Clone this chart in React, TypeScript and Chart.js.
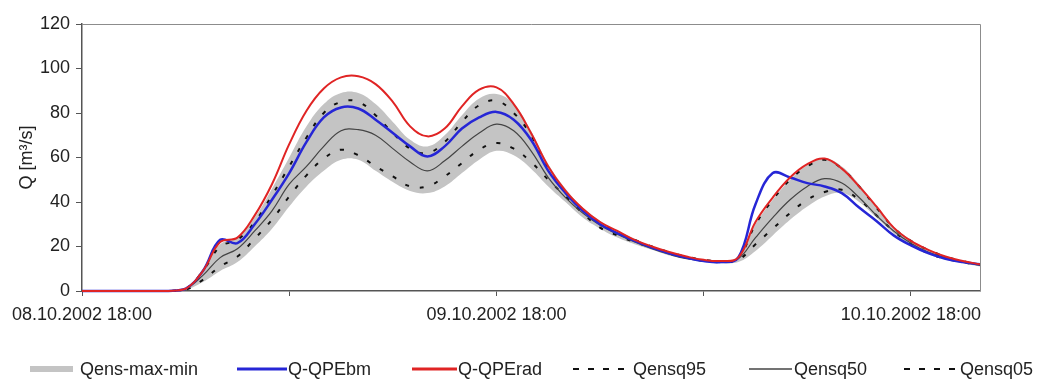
import React, { useEffect, useRef } from "react";
import { Chart, registerables } from "chart.js";

Chart.register(...registerables);

// Hours after 08.10.2002 18:00
const HOURS = [
  0, 1, 2, 3, 4, 5, 6, 7, 8, 9, 10, 11, 12, 13, 14, 15, 16, 17, 18, 19, 20, 21, 22, 23, 24, 25, 26,
  27, 28, 29, 30, 31, 32, 33, 34, 35, 36, 37, 38, 39, 40, 41, 42, 43, 44, 45, 46, 47, 48, 49, 50, 51, 52,
];

// Discharge Q [m³/s]
const Q_QPE_RAD = [
  0, 0, 0, 0, 0, 0, 1, 9, 22, 24, 34, 48, 66, 81, 91, 96, 96.5, 93, 85, 74, 69.5, 73, 83, 90.5, 91.5, 84, 71,
  56, 45, 37, 31, 27, 23, 20, 17.5, 15.5, 14, 13.5, 15, 31, 42, 51, 57, 59.5, 55, 47, 38, 28.5, 22.5, 18.5, 15.5, 13.5, 12,
];
const Q_QPE_BM = [
  0, 0, 0, 0, 0, 0, 1, 9, 23, 21.5, 30, 41, 53, 67, 78, 82.5, 82, 77, 71, 65, 60.5, 65, 73, 78, 80.5, 77, 68,
  54, 44, 36, 30, 26, 22.5, 19.5, 17, 15, 13.5, 13, 15, 39, 53, 51, 48.5, 47, 44, 37.5, 31.5, 25, 20.5, 17, 14.5, 13, 12,
];
const Q_ENS_Q95 = [
  0, 0, 0, 0, 0, 0, 1, 9, 20, 23, 31, 43, 56, 69, 80, 85, 85, 79, 71, 64, 62, 67, 76, 83.5, 85.5, 80, 70,
  55, 44.5, 36.5, 30.5, 26.5, 23, 20, 17.5, 15.5, 14, 13.5, 15, 30, 41, 50, 56, 59, 55, 47, 37.5, 28.5, 22.5, 18.5, 15.5, 13.5, 12,
];
const Q_ENS_Q50 = [
  0, 0, 0, 0, 0, 0, 1, 7, 15, 19, 27, 36, 48, 56, 65, 72, 72.5, 70, 64, 58, 54, 58.5, 65, 71, 75, 72, 63,
  51, 42, 35, 29.5, 25.5, 22, 19, 16.5, 14.5, 13.5, 13, 14.5, 24, 33, 41, 47, 50.5, 48.5, 42, 34, 27, 21.5, 17.5, 15, 13, 11.5,
];
const Q_ENS_Q05 = [
  0, 0, 0, 0, 0, 0, 0.5, 5, 11, 15.5, 23.5, 32, 42.5, 52, 59.5, 63.5, 61, 56, 51.5, 47, 47, 51.5, 57.5, 63.5, 66.5, 64, 58,
  50, 42.5, 35, 28.5, 25, 22, 19.5, 17, 15, 13.5, 13, 14, 21, 28, 35, 41, 44.5, 45.5, 41, 34, 27, 21, 17, 14.5, 13, 11.5,
];
const Q_ENS_MAX = [
  0, 0, 0, 0, 0, 0, 1, 10, 21, 24, 33, 46, 60, 74, 84, 89, 89, 84, 76, 68, 65, 70, 79, 86.5, 88.5, 84, 72,
  57, 46, 37.5, 31.5, 27, 23.5, 20, 17.5, 15.5, 14, 13.5, 15, 30, 41, 50, 56.5, 59.5, 56, 48, 38, 29, 23, 18.5, 15.5, 13.5, 12,
];
const Q_ENS_MIN = [
  0, 0, 0, 0, 0, 0, 0.5, 4, 9, 13, 20, 28, 38, 47, 54, 59, 59, 54, 49, 45, 44, 47, 53, 59, 63, 61, 55,
  47, 40, 33, 28, 24, 21, 18.5, 16, 14.5, 13, 12.5, 13, 18, 25, 32, 38, 42.5, 44, 40, 33, 26, 20.5, 16.5, 14, 12.5, 11,
];

const X_TICK_HOURS = [0, 12, 24, 36, 48];
const X_LABEL_HOURS = [0, 24, 48];
const X_LABELS = ["08.10.2002 18:00", "09.10.2002 18:00", "10.10.2002 18:00"];

const LABEL_BAND = "Qens-max-min";
const LABEL_BM = "Q-QPEbm";
const LABEL_RAD = "Q-QPErad";
const LABEL_Q95 = "Qensq95";
const LABEL_Q50 = "Qensq50";
const LABEL_Q05 = "Qensq05";

const FONT_FAMILY = '"Liberation Sans", Arial, sans-serif';
const TEXT_COLOR = "#222";
const AXIS_COLOR = "#555";
const RED = "#e02424";
const BLUE = "#2626d6";
const BAND = "#c4c4c4";
const DASH = [4, 11];
const TENSION = 0.4;

const toPoints = (values: number[]) => HOURS.map((h, i) => ({ x: h, y: values[i] }));

// Thin grey frame on the top and right of the plot area
const plotFrame = {
  id: "plotFrame",
  afterDatasetsDraw(chart: any) {
    const { ctx, chartArea } = chart;
    const { left, top, right, bottom } = chartArea;
    ctx.save();
    ctx.strokeStyle = "#8c8c8c";
    ctx.lineWidth = 1;
    ctx.beginPath();
    ctx.moveTo(left, top + 0.5);
    ctx.lineTo(right + 0.5, top + 0.5);
    ctx.lineTo(right + 0.5, bottom);
    ctx.stroke();
    ctx.restore();
  },
};

type LegendEntry = {
  label: string;
  x: number;
  width: number;
  textX: number;
  color: string;
  lineWidth: number;
  dash?: string;
};

const LEGEND: LegendEntry[] = [
  { label: LABEL_BAND, x: 30, width: 43, textX: 80, color: BAND, lineWidth: 6 },
  { label: LABEL_BM, x: 237, width: 50, textX: 288, color: BLUE, lineWidth: 3 },
  { label: LABEL_RAD, x: 412, width: 45, textX: 458, color: RED, lineWidth: 3 },
  { label: LABEL_Q95, x: 573, width: 57, textX: 633, color: "#111", lineWidth: 2, dash: "6 9" },
  { label: LABEL_Q50, x: 749, width: 43, textX: 794, color: "#444", lineWidth: 1.5 },
  { label: LABEL_Q05, x: 904, width: 53, textX: 960, color: "#111", lineWidth: 2, dash: "6 9" },
];

function Legend() {
  const y = 369;
  return (
    <>
      {LEGEND.map((e) => (
        <React.Fragment key={e.label}>
          <svg
            width={e.width}
            height={10}
            style={{ position: "absolute", left: e.x, top: y - 5 }}
          >
            <line
              x1={0}
              y1={5}
              x2={e.width}
              y2={5}
              stroke={e.color}
              strokeWidth={e.lineWidth}
              strokeDasharray={e.dash}
            />
          </svg>
          <span
            style={{
              position: "absolute",
              left: e.textX,
              top: y - 11,
              font: `18px ${FONT_FAMILY}`,
              lineHeight: "22px",
              color: TEXT_COLOR,
              whiteSpace: "nowrap",
            }}
          >
            {e.label}
          </span>
        </React.Fragment>
      ))}
    </>
  );
}

export default function App() {
  const canvasRef = useRef<HTMLCanvasElement | null>(null);

  useEffect(() => {
    if (!canvasRef.current) return;
    const font = { family: FONT_FAMILY, size: 18 };
    const line = (label: string, values: number[], color: string, width: number, dash: number[] = []) => ({
      label,
      data: toPoints(values),
      borderColor: color,
      borderWidth: width,
      borderDash: dash,
      pointRadius: 0,
      fill: false,
      tension: TENSION,
      clip: false as const,
    });

    const chart = new Chart(canvasRef.current, {
      type: "line",
      data: {
        datasets: [
          line(LABEL_RAD, Q_QPE_RAD, RED, 2),
          line(LABEL_BM, Q_QPE_BM, BLUE, 2.5),
          line(LABEL_Q95, Q_ENS_Q95, "#111", 2, DASH),
          line(LABEL_Q50, Q_ENS_Q50, "#444", 1.2),
          line(LABEL_Q05, Q_ENS_Q05, "#111", 2, DASH),
          {
            label: LABEL_BAND,
            data: toPoints(Q_ENS_MAX),
            borderWidth: 0,
            borderColor: BAND,
            backgroundColor: BAND,
            pointRadius: 0,
            fill: "+1",
            tension: TENSION,
          },
          {
            label: LABEL_BAND + " min",
            data: toPoints(Q_ENS_MIN),
            borderWidth: 0,
            borderColor: BAND,
            pointRadius: 0,
            fill: false,
            tension: TENSION,
          },
        ],
      },
      options: {
        animation: false,
        responsive: false,
        maintainAspectRatio: false,
        layout: { padding: { left: 0, top: 24, right: 57, bottom: 0 } },
        plugins: {
          legend: { display: false },
          tooltip: { enabled: false },
        },
        scales: {
          x: {
            type: "linear",
            min: 0,
            max: 52,
            afterBuildTicks: (scale: any) => {
              scale.ticks = X_TICK_HOURS.map((v) => ({ value: v }));
            },
            ticks: {
              autoSkip: false,
              maxRotation: 0,
              padding: 8,
              color: TEXT_COLOR,
              font,
              callback: (value: any) => {
                const idx = X_LABEL_HOURS.indexOf(Number(value));
                return idx >= 0 ? X_LABELS[idx] : "";
              },
            },
            grid: { drawOnChartArea: false, drawTicks: true, tickLength: 5, color: AXIS_COLOR },
            border: { display: true, color: AXIS_COLOR, width: 1.5 },
            afterFit: (scale: any) => {
              scale.height = 90;
            },
          },
          y: {
            min: 0,
            max: 120,
            ticks: { stepSize: 20, padding: 6, color: TEXT_COLOR, font },
            grid: { drawOnChartArea: false, drawTicks: true, tickLength: 6, color: AXIS_COLOR },
            border: { display: true, color: AXIS_COLOR, width: 1.5 },
            title: {
              display: true,
              text: "Q [m³/s]",
              color: TEXT_COLOR,
              font,
              padding: { top: 16, bottom: 0 },
            },
            afterFit: (scale: any) => {
              scale.width = 82;
            },
          },
        },
      },
      plugins: [plotFrame],
    });
    return () => chart.destroy();
  }, []);

  return (
    <div
      style={{
        position: "fixed",
        left: 0,
        top: 0,
        width: 1037,
        height: 381,
        background: "#fff",
        overflow: "hidden",
      }}
    >
      <canvas ref={canvasRef} width={1037} height={381} style={{ display: "block" }} />
      <Legend />
    </div>
  );
}
